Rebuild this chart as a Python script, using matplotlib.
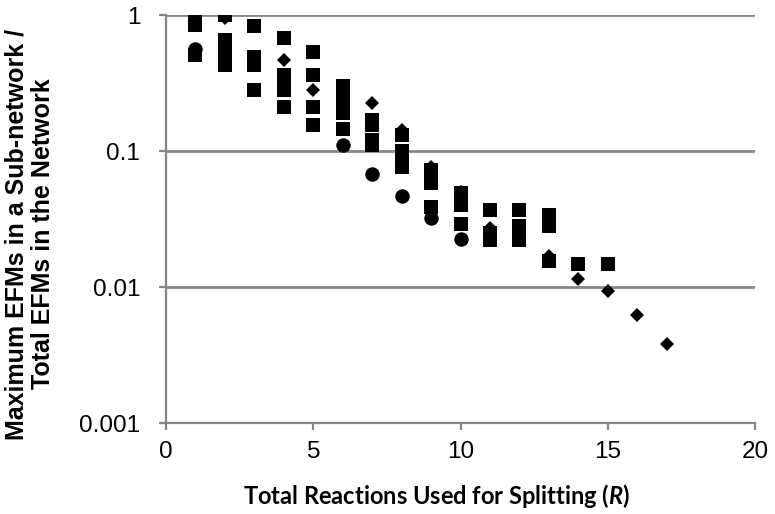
import matplotlib
matplotlib.use("Agg")
import matplotlib.pyplot as plt

# values
square_x = [1, 1, 1, 1,
            2, 2, 2, 2, 2,
            3, 3, 3, 3,
            4, 4, 4, 4, 4,
            5, 5, 5, 5,
            6, 6, 6, 6, 6,
            7, 7, 7, 7,
            8, 8, 8, 8,
            9, 9, 9, 9,
            10, 10, 10,
            11, 11, 11,
            12, 12, 12, 12,
            13, 13, 13,
            14, 15]
square_y = [1.0, 0.92, 0.84, 0.51,
            1.0, 0.65, 0.57, 0.50, 0.43,
            0.83, 0.49, 0.43, 0.28,
            0.68, 0.36, 0.32, 0.28, 0.21,
            0.535, 0.36, 0.21, 0.155,
            0.30, 0.25, 0.21, 0.19, 0.145,
            0.17, 0.154, 0.12, 0.11,
            0.132, 0.10, 0.088, 0.076,
            0.073, 0.065, 0.058, 0.039,
            0.049, 0.040, 0.029,
            0.037, 0.025, 0.022,
            0.037, 0.028, 0.025, 0.022,
            0.034, 0.028, 0.0155,
            0.0148, 0.0148]

diamond_x = [2, 4, 5, 7, 8, 9, 10, 11, 13, 14, 15, 16, 17]
diamond_y = [0.95, 0.47, 0.28, 0.225, 0.143, 0.076, 0.05, 0.027, 0.017,
             0.0115, 0.0093, 0.0062, 0.0038]

circle_x = [1, 6, 7, 8, 9, 10]
circle_y = [0.56, 0.11, 0.068, 0.047, 0.032, 0.0225]

y_ticks = [0.001, 0.01, 0.1, 1]
y_tick_labels = ["0.001", "0.01", "0.1", "1"]
x_ticks = [0, 5, 10, 15, 20]

grey = "#868686"

plt.rcParams["font.family"] = ["Liberation Sans", "DejaVu Sans"]
plt.rcParams["mathtext.fontset"] = "custom"
plt.rcParams["mathtext.it"] = "Lato:italic:bold"
plt.rcParams["mathtext.rm"] = "Lato:bold"

fig = plt.figure(figsize=(7.75, 5.14), dpi=100)
ax = fig.add_axes([166 / 775, 1 - 423 / 514, (755 - 166) / 775, (423 - 15) / 514])

ax.plot(square_x, square_y, "s", color="black", ms=10.6, mew=0, zorder=3)
ax.plot(diamond_x, diamond_y, "D", color="black", ms=7.4, mew=0, zorder=3)
ax.plot(circle_x, circle_y, "o", color="black", ms=10.4, mew=0, zorder=3)

ax.set_yscale("log")
ax.set_ylim(0.001, 1)
ax.set_xlim(0, 20)
ax.set_yticks(y_ticks)
ax.set_yticklabels(y_tick_labels)
ax.minorticks_off()
ax.set_xticks(x_ticks)

ax.grid(axis="y", color=grey, lw=2, zorder=1)
ax.set_axisbelow(True)
for side in ["top", "right"]:
    ax.spines[side].set_visible(False)
for side in ["left", "bottom"]:
    ax.spines[side].set_color(grey)
    ax.spines[side].set_linewidth(1.6)

ax.tick_params(axis="both", direction="out", length=5, width=1.6, color=grey,
               labelsize=17.5, labelcolor="black")
ax.tick_params(axis="y", pad=13.5)
ax.tick_params(axis="x", pad=8)

fig.text(30 / 775, 1 - 234 / 514,
         "Maximum EFMs in a Sub-network /\nTotal EFMs in the Network",
         rotation=90, ha="center", va="center", multialignment="center",
         fontsize=18, fontweight="bold", linespacing=1.15)

fig.text(437 / 775, 1 - 496 / 514,
         r"Total Reactions Used for Splitting ($\mathit{R}$)",
         ha="center", va="center", fontsize=17, fontweight="bold", family="Lato")

fig.savefig("out.png", dpi=100)
